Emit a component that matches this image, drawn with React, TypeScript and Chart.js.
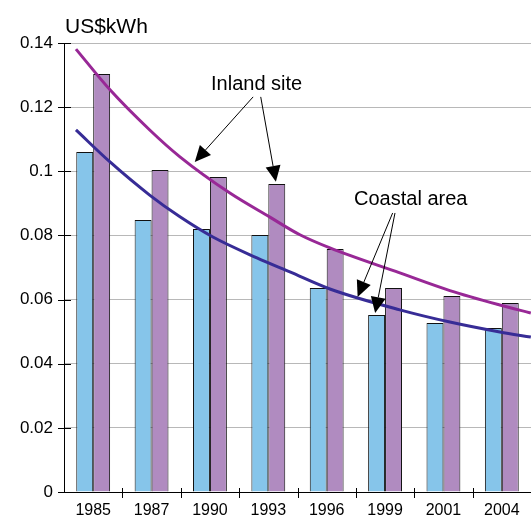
import React, { useEffect, useRef } from "react";
import { Chart, registerables } from "chart.js";

Chart.register(...registerables);

const categories = ["1985", "1987", "1990", "1993", "1996", "1999", "2001", "2004"];
const coastal = [0.106, 0.0848, 0.082, 0.0801, 0.0636, 0.0552, 0.0527, 0.0511];
const inland = [0.1303, 0.1004, 0.0982, 0.096, 0.0758, 0.0636, 0.0611, 0.0589];

const inlandTrendX = [-0.295, 0.288, 0.973, 1.486, 2.342, 3.027, 3.541, 4.055, 5.253, 6.11, 6.966, 7.497];
const inlandTrendY = [0.1381, 0.1254, 0.1128, 0.1045, 0.0932, 0.0857, 0.0802, 0.0761, 0.0683, 0.0628, 0.0583, 0.0558];

const coastalTrendX = [-0.295, 0.288, 0.973, 1.486, 2.051, 2.805, 3.37, 4.055, 5.253, 6.11, 6.966, 7.497];
const coastalTrendY = [0.1129, 0.1029, 0.0925, 0.0858, 0.0795, 0.073, 0.0686, 0.0633, 0.0568, 0.053, 0.0499, 0.0483];

const yTickLabels = ["0", "0.02", "0.04", "0.06", "0.08", "0.1", "0.12", "0.14"];
const unitLabel = "US$kWh";

// annotation anchors in data space: [categoryIndex, value]
const labelInland = { text: "Inland site", at: [2.8, 0.1254] };
const labelCoastal = { text: "Coastal area", at: [5.44, 0.0895] };
const arrows = [
  { from: [2.74, 0.1232], to: [1.74, 0.1029] },
  { from: [2.87, 0.1232], to: [3.13, 0.0967] },
  { from: [5.13, 0.087], to: [4.53, 0.0608] },
  { from: [5.17, 0.087], to: [4.83, 0.0558] },
];

const FONT = "'Liberation Sans', Arial, sans-serif";
const Y_MAX = 0.14;
const PAD = { left: 64, top: 43, right: 0, bottom: 27 };

const decorPlugin = {
  id: "decor",
  afterDraw(chart: any) {
    const ctx = chart.ctx;
    const area = chart.chartArea;
    const ys = chart.scales.y;
    const xs = chart.scales.x;
    ctx.save();
    ctx.fillStyle = "#000";
    ctx.font = `21px ${FONT}`;
    ctx.textAlign = "left";
    ctx.textBaseline = "alphabetic";
    ctx.fillText(unitLabel, area.left + 1, 33);

    ctx.strokeStyle = "#000";
    ctx.lineWidth = 1;
    ctx.beginPath();
    yTickLabels.forEach((_l, i) => {
      const py = Math.round(ys.getPixelForValue((Y_MAX * i) / (yTickLabels.length - 1))) + 0.5;
      ctx.moveTo(area.left - 6, py);
      ctx.lineTo(area.left + 7, py);
    });
    for (let k = 1; k < categories.length; k++) {
      const px = Math.round(xs.getPixelForValue(k - 0.5)) + 0.5;
      ctx.moveTo(px, area.bottom - 4);
      ctx.lineTo(px, area.bottom + 6);
    }
    ctx.stroke();

    ctx.font = `20px ${FONT}`;
    ctx.textAlign = "center";
    [labelInland, labelCoastal].forEach((l) => {
      ctx.fillText(l.text, xs.getPixelForValue(l.at[0]), ys.getPixelForValue(l.at[1]));
    });

    arrows.forEach((a) => {
      const x1 = xs.getPixelForValue(a.from[0]);
      const y1 = ys.getPixelForValue(a.from[1]);
      const x2 = xs.getPixelForValue(a.to[0]);
      const y2 = ys.getPixelForValue(a.to[1]);
      const ang = Math.atan2(y2 - y1, x2 - x1);
      const len = 16;
      const hw = 7.5;
      const bx = x2 - len * Math.cos(ang);
      const by = y2 - len * Math.sin(ang);
      ctx.beginPath();
      ctx.moveTo(x1, y1);
      ctx.lineTo(bx, by);
      ctx.stroke();
      ctx.beginPath();
      ctx.moveTo(x2, y2);
      ctx.lineTo(bx + hw * Math.sin(ang), by - hw * Math.cos(ang));
      ctx.lineTo(bx - hw * Math.sin(ang), by + hw * Math.cos(ang));
      ctx.closePath();
      ctx.fill();
    });
    ctx.restore();
  },
};

export default function App() {
  const barRef = useRef<HTMLCanvasElement>(null);
  const lineRef = useRef<HTMLCanvasElement>(null);
  useEffect(() => {
    if (!barRef.current || !lineRef.current) return;
    const bars = new Chart(barRef.current, {
      type: "bar",
      data: {
        labels: categories,
        datasets: [
          {
            label: "Coastal area",
            data: coastal,
            backgroundColor: "#86C5EA",
            borderColor: "#111",
            borderWidth: 1,
            categoryPercentage: 0.58,
            barPercentage: 1,
          },
          {
            label: "Inland site",
            data: inland,
            backgroundColor: "#B08BC0",
            borderColor: "#111",
            borderWidth: 1,
            categoryPercentage: 0.58,
            barPercentage: 1,
          },
        ],
      },
      options: {
        animation: false,
        responsive: false,
        layout: { padding: { top: PAD.top, left: 0, right: 0, bottom: 0 } },
        plugins: { legend: { display: false }, tooltip: { enabled: false }, title: { display: false } },
        scales: {
          x: {
            type: "category",
            offset: true,
            grid: { display: false, drawTicks: false },
            border: { display: true, color: "#000", width: 1 },
            ticks: { color: "#000", font: { size: 16, family: FONT }, padding: 9, maxRotation: 0, autoSkip: false },
            afterFit: (s: any) => {
              s.height = PAD.bottom;
            },
          },
          y: {
            min: 0,
            max: Y_MAX,
            ticks: {
              stepSize: 0.02,
              color: "#000",
              font: { size: 17, family: FONT },
              padding: 11,
              callback: (_v: any, i: number) => yTickLabels[i],
            },
            grid: { color: "#b8b8b8", drawTicks: false, lineWidth: 1 },
            border: { display: true, color: "#000", width: 1 },
            afterFit: (s: any) => {
              s.width = PAD.left;
            },
          },
        },
      },
    });
    const lines = new Chart(lineRef.current, {
      type: "line",
      data: {
        datasets: [
          {
            label: "Inland trend",
            data: inlandTrendX.map((x, i) => ({ x, y: inlandTrendY[i] })),
            borderColor: "#982896",
            borderWidth: 3,
            pointRadius: 0,
            cubicInterpolationMode: "monotone",
          },
          {
            label: "Coastal trend",
            data: coastalTrendX.map((x, i) => ({ x, y: coastalTrendY[i] })),
            borderColor: "#372C96",
            borderWidth: 3,
            pointRadius: 0,
            cubicInterpolationMode: "monotone",
          },
        ],
      },
      options: {
        animation: false,
        responsive: false,
        layout: { padding: PAD },
        plugins: { legend: { display: false }, tooltip: { enabled: false }, title: { display: false } },
        scales: {
          x: { type: "linear", display: false, min: -0.5, max: categories.length - 0.5 },
          y: { type: "linear", display: false, min: 0, max: Y_MAX },
        },
      },
      plugins: [decorPlugin],
    });
    return () => {
      bars.destroy();
      lines.destroy();
    };
  }, []);
  const canvasStyle: React.CSSProperties = { position: "absolute", left: 0, top: 0, display: "block" };
  return (
    <div style={{ position: "fixed", left: 0, top: 0, width: 531, height: 519, background: "#fff" }}>
      <canvas ref={barRef} width={531} height={519} style={canvasStyle} />
      <canvas ref={lineRef} width={531} height={519} style={canvasStyle} />
    </div>
  );
}
